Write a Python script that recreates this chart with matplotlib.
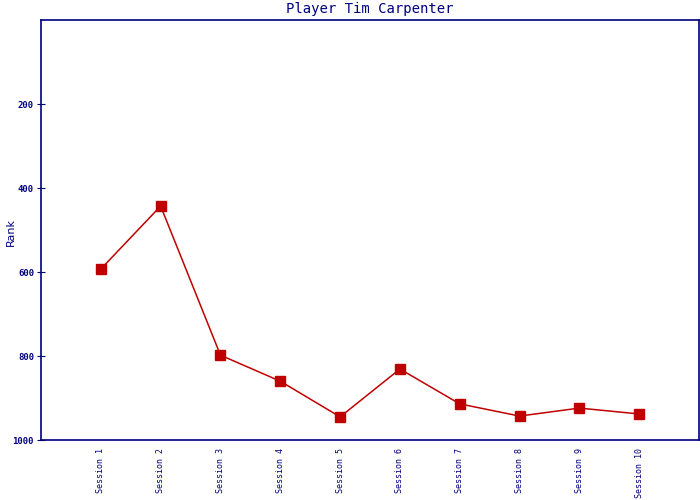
import matplotlib
matplotlib.use("Agg")
import matplotlib.pyplot as plt

sessions = ["Session 1", "Session 2", "Session 3", "Session 4", "Session 5",
            "Session 6", "Session 7", "Session 8", "Session 9", "Session 10"]
ranks = [593, 443, 798, 860, 945, 831, 914, 943, 924, 938]
yticks = [200, 400, 600, 800, 1000]

navy = "#000080"
red = "#C00000"

fig = plt.figure(figsize=(7, 5), dpi=100)
ax = fig.add_axes([41/700, 1-440/500, 658/700, 420/500])
x = list(range(1, len(sessions) + 1))
ax.plot(x, ranks, color=red, lw=1.1, marker="s", ms=6.5, mfc=red, mec=red)
ax.set_xlim(0, 11)
ax.set_ylim(1000, 0)
ax.set_yticks(yticks)
ax.set_yticklabels([str(v) for v in yticks], family="DejaVu Sans Mono",
                   fontsize=6.5, color=navy, fontweight="bold")
ax.set_xticks(x)
ax.set_xticklabels(sessions, rotation=90, family="DejaVu Sans Mono",
                   fontsize=6, color=navy, va="top")
ax.tick_params(axis="x", length=0, pad=6)
ax.tick_params(axis="y", direction="inout", length=6, color=navy, pad=2)
for s in ax.spines.values():
    s.set_color(navy)
    s.set_linewidth(1.2)
ax.set_title("Player Tim Carpenter", family="DejaVu Sans Mono",
             fontsize=10, color=navy, pad=5)
ax.set_ylabel("Rank", fontsize=8, color=navy)
ax.yaxis.set_label_coords(-0.038, 0.495)
fig.savefig("out.png", dpi=100)
